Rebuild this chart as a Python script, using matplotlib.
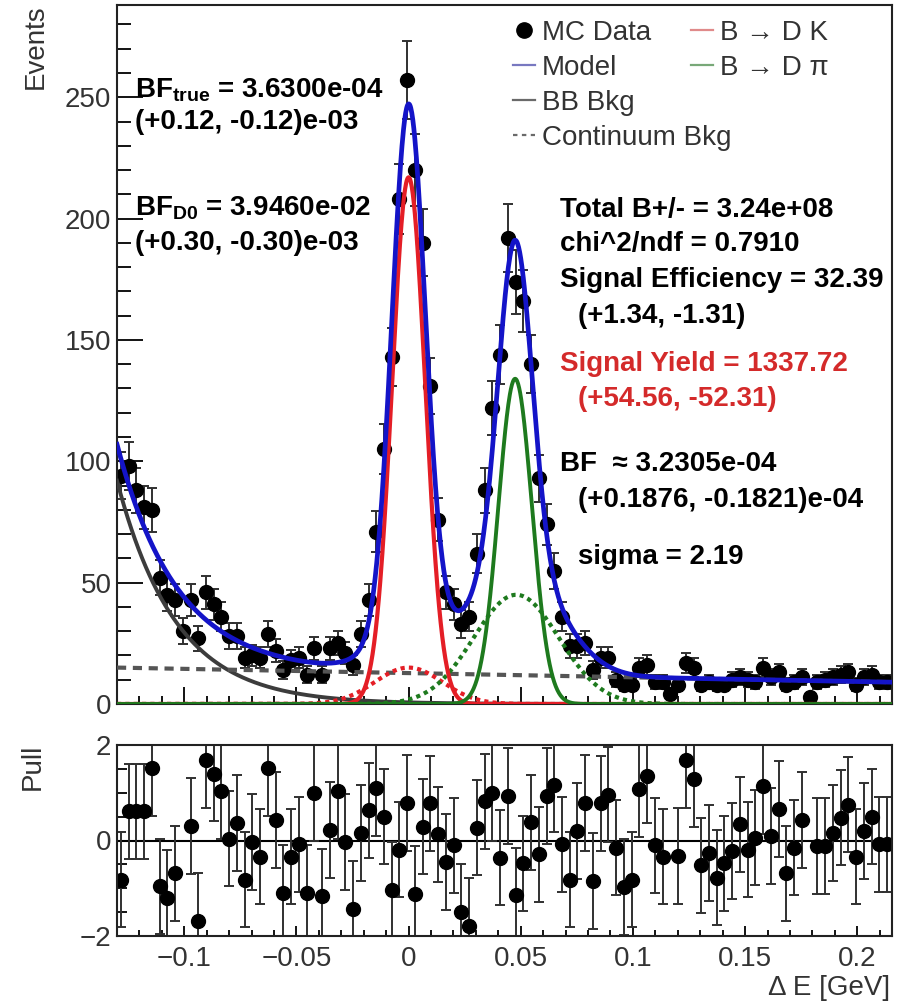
import numpy as np
import matplotlib
matplotlib.use("Agg")
import matplotlib.pyplot as plt
from matplotlib.lines import Line2D
from matplotlib.ticker import MultipleLocator

plt.rcParams['font.family'] = ['Liberation Sans', 'DejaVu Sans']
plt.rcParams['mathtext.fontset'] = 'custom'
plt.rcParams['mathtext.rm'] = 'Liberation Sans:bold'
plt.rcParams['mathtext.it'] = 'Liberation Sans:bold'
plt.rcParams['mathtext.bf'] = 'Liberation Sans:bold'

# delta E histogram binning
x_lo, x_hi = -0.13, 0.215
n_bins = 100

events = [94, 98, 88, 81, 80, 52, 45, 43, 30, 43,
          27, 46, 41, 36, 28, 28, 19, 20, 19, 29,
          22, 14, 18, 19, 12, 23, 12, 23, 25, 21,
          16, 29, 43, 71, 105, 143, 208, 257, 220, 190,
          131, 76, 46, 41, 33, 36, 62, 88, 122, 144,
          192, 174, 166, 140, 93, 74, 55, 36, 24, 24,
          25, 14, 19, 19, 10, 8, 8, 15, 16, 9,
          9, 4, 8, 17, 15, 8, 9, 8, 8, 10,
          11, 10, 9, 15, 11, 13, 8, 9, 11, 3,
          9, 10, 11, 12, 13, 8, 11, 12, 9, 9]

# None = pull outside the [-2, 2] window
pulls = [-0.82, 0.61, 0.61, 0.61, 1.52, -0.96, -1.20, -0.69, None, 0.30,
         -1.69, 1.68, 1.40, 1.03, 0.04, 0.37, -0.82, -0.03, -0.34, 1.52,
         0.43, -1.10, -0.34, -0.08, -1.10, 1.00, -1.17, 0.22, 1.03, -0.03,
         -1.43, 0.16, 0.63, 1.10, 0.50, -1.03, -0.19, 0.79, -1.11, 0.29,
         0.78, 0.13, -0.45, -0.10, -1.50, -1.79, 0.27, 0.82, 1.00, -0.36,
         0.93, -1.15, -0.48, 0.38, -0.29, 0.93, 1.17, -0.08, -0.82, 0.20,
         0.79, -0.85, 0.78, 0.96, -0.15, -0.97, -0.82, 1.08, 1.36, -0.10,
         -0.34, None, -0.32, 1.68, 1.28, -0.52, -0.26, -0.78, -0.48, -0.22,
         0.34, -0.19, 0.06, 1.14, 0.09, 0.66, -0.69, -0.15, 0.43, None,
         -0.12, -0.12, 0.16, 0.48, 0.75, -0.34, 0.20, 0.50, -0.08, -0.08]

# fit components (amplitude, mean, sigma)
sig_dk = (217.0, 0.0, 0.0074)
sig_dpi = (134.0, 0.0475, 0.0075)
wide_dk = (15.0, 0.0, 0.015)
wide_dpi = (45.0, 0.048, 0.019)
bb_amp, bb_slope = 92.0, 38.0        # BB bkg value at x_lo, decay slope
cont_left, cont_right = 15.0, 9.0    # continuum at x_lo / x_hi


def gaus(x, p):
    return p[0] * np.exp(-0.5 * ((x - p[1]) / p[2]) ** 2)


def fx(px):
    return px / 900.0


def fy(py):
    return 1.0 - py / 1001.0


edges = np.linspace(x_lo, x_hi, n_bins + 1)
centers = 0.5 * (edges[1:] + edges[:-1])
ev = np.array(events, dtype=float)
pl = np.array([np.nan if p is None else p for p in pulls])

xs = np.linspace(x_lo, x_hi, 1500)
bb = bb_amp * np.exp(-bb_slope * (xs - x_lo))
cont = cont_left + (cont_right - cont_left) * (xs - x_lo) / (x_hi - x_lo)
dk = gaus(xs, sig_dk)
dpi = gaus(xs, sig_dpi)
dk_w = gaus(xs, wide_dk)
dpi_w = gaus(xs, wide_dpi)
model = bb + cont + dk + dpi + dk_w + dpi_w

c_blue = '#1414c8'
c_red = '#e41e26'
c_green = '#1e7a1e'
c_gray = '#3c3c3c'
c_txt = '#333333'

fig = plt.figure(figsize=(9, 10.01), dpi=100)
ax = fig.add_axes([fx(117), fy(704), (892 - 117) / 900, (704 - 5) / 1001])
axp = fig.add_axes([fx(117), fy(936), (892 - 117) / 900, (936 - 745) / 1001])

ax.errorbar(centers, ev, yerr=np.sqrt(ev), fmt='o', color='black', ms=10,
            ecolor='#303030', elinewidth=1.4, capsize=3.5, capthick=1.4, zorder=2)
ax.plot(xs, bb, color=c_gray, lw=2.8, zorder=3)
ax.plot(xs, cont, color='#555555', lw=3, ls=(0, (2.2, 1.6)), zorder=3)
ax.plot(xs, dk_w, color=c_red, lw=3, ls=(0, (1.0, 1.0)), zorder=3)
ax.plot(xs, dpi_w, color=c_green, lw=3, ls=(0, (1.0, 1.0)), zorder=3)
ax.plot(xs, dk, color=c_red, lw=3, zorder=4)
ax.plot(xs, dpi, color=c_green, lw=2.8, zorder=4)
ax.plot(xs, model, color=c_blue, lw=3.4, zorder=5)

ax.set_xlim(-0.13, 0.2155)
ax.set_ylim(0, 288)
ax.yaxis.set_major_locator(MultipleLocator(50))
ax.yaxis.set_minor_locator(MultipleLocator(10))
ax.xaxis.set_major_locator(MultipleLocator(0.05))
ax.xaxis.set_minor_locator(MultipleLocator(0.01))
ax.tick_params(axis='y', which='major', direction='in', length=19, width=1.3,
               labelsize=20, labelcolor=c_txt, pad=4)
ax.tick_params(axis='y', which='minor', direction='in', length=10, width=1.3)
ax.tick_params(axis='x', which='major', direction='in', length=12, width=1.3,
               labelbottom=False)
ax.tick_params(axis='x', which='minor', direction='in', length=6, width=1.3)
for s in ax.spines.values():
    s.set_linewidth(1.5)
    s.set_color('#222222')

# pull panel
axp.axhline(0, color='black', lw=1.5, zorder=1)
axp.errorbar(centers, pl, yerr=1.0, fmt='o', color='black', ms=10,
             ecolor='#303030', elinewidth=1.4, capsize=3.5, capthick=1.4, zorder=2)
axp.set_xlim(-0.13, 0.2155)
axp.set_ylim(-2, 2)
axp.yaxis.set_major_locator(MultipleLocator(2))
axp.yaxis.set_minor_locator(MultipleLocator(0.5))
axp.xaxis.set_major_locator(MultipleLocator(0.05))
axp.xaxis.set_minor_locator(MultipleLocator(0.01))
axp.tick_params(axis='y', which='major', direction='in', length=14, width=1.3,
                labelsize=20, labelcolor=c_txt, pad=4)
axp.tick_params(axis='y', which='minor', direction='in', length=7, width=1.3)
axp.tick_params(axis='x', which='major', direction='in', length=7, width=1.3,
                labelsize=20, labelcolor=c_txt, pad=7)
axp.tick_params(axis='x', which='minor', direction='in', length=4, width=1.3)
axp.xaxis.set_major_formatter(plt.FuncFormatter(
    lambda v, p: '0' if abs(v) < 1e-9 else ('%g' % v).replace('-', '\u2212')))
for s in axp.spines.values():
    s.set_linewidth(1.5)
    s.set_color('#222222')

# legends
h1 = [Line2D([], [], marker='o', color='black', ls='none', ms=11),
      Line2D([], [], color='#7878c0', lw=1.6),
      Line2D([], [], color='#6a6a6a', lw=1.6),
      Line2D([], [], color='#6a6a6a', lw=1.6, ls=(0, (2, 2)))]
leg1 = ax.legend(h1, ['MC Data', 'Model', 'BB Bkg', 'Continuum Bkg'],
                 loc='upper left', bbox_to_anchor=(fx(513), fy(20)),
                 bbox_transform=fig.transFigure, frameon=False, fontsize=20,
                 labelcolor=c_txt, handlelength=0.8, handletextpad=0.25,
                 labelspacing=0.32, borderpad=0, borderaxespad=0)
ax.add_artist(leg1)
h2 = [Line2D([], [], color='#e08a8a', lw=1.6),
      Line2D([], [], color='#78a878', lw=1.6)]
ax.legend(h2, ['B \u2192 D K', 'B \u2192 D \u03c0'],
          loc='upper left', bbox_to_anchor=(fx(691), fy(20)),
          bbox_transform=fig.transFigure, frameon=False, fontsize=20,
          labelcolor=c_txt, handlelength=0.8, handletextpad=0.25,
          labelspacing=0.32, borderpad=0, borderaxespad=0)

# fit annotations
bold = dict(fontsize=20, fontweight='bold', va='center', ha='left')
fig.text(fx(135), fy(90), r'BF$_{\rm true}$ = 3.6300e-04', **bold)
fig.text(fx(135), fy(122), '(+0.12, -0.12)e-03', **bold)
fig.text(fx(135), fy(208), r'BF$_{\rm D0}$ = 3.9460e-02', **bold)
fig.text(fx(135), fy(243), '(+0.30, -0.30)e-03', **bold)

fig.text(fx(560), fy(210), 'Total B+/- = 3.24e+08', **bold)
fig.text(fx(560), fy(244), 'chi^2/ndf = 0.7910', **bold)
fig.text(fx(560), fy(280), 'Signal Efficiency = 32.39', **bold)
fig.text(fx(578), fy(316), '(+1.34, -1.31)', **bold)
fig.text(fx(560), fy(364), 'Signal Yield = 1337.72', color='#d42a2a', **bold)
fig.text(fx(578), fy(399), '(+54.56, -52.31)', color='#d42a2a', **bold)
fig.text(fx(560), fy(464), 'BF  \u2248 3.2305e-04', **bold)
fig.text(fx(578), fy(500), '(+0.1876, -0.1821)e-04', **bold)
fig.text(fx(578), fy(557), 'sigma = 2.19', **bold)

# axis titles
fig.text(fx(36), fy(4), 'Events', rotation=90, ha='center', va='top',
         fontsize=20, color=c_txt)
fig.text(fx(33), fy(744), 'Pull', rotation=90, ha='center', va='top',
         fontsize=20, color=c_txt)
fig.text(fx(890), fy(988), '\u0394 E [GeV]', ha='right', va='center',
         fontsize=20, color=c_txt)

fig.savefig('out.png', dpi=100)
